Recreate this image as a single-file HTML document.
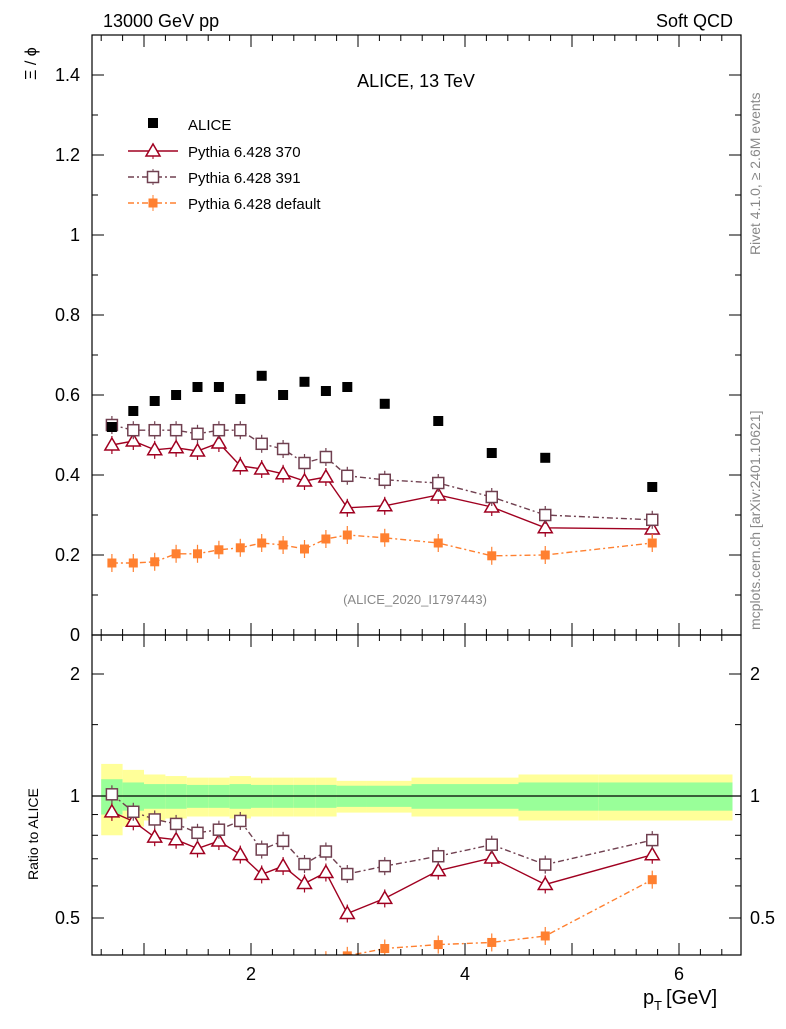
<!DOCTYPE html>
<html><head><meta charset="utf-8"><style>
body{margin:0;background:#fff;}
svg text{font-family:"Liberation Sans",sans-serif;}
</style></head><body>
<svg id="c" width="786" height="1024" xmlns="http://www.w3.org/2000/svg"></svg>
<script>
const pT=[0.7,0.9,1.1,1.3,1.5,1.7,1.9,2.1,2.3,2.5,2.7,2.9,3.25,3.75,4.25,4.75,5.75];
const alice=[0.52,0.56,0.585,0.60,0.62,0.62,0.59,0.648,0.60,0.633,0.61,0.62,0.578,0.535,0.455,0.443,0.37];
const aliceStat=[0.1,0.08,0.07,0.07,0.065,0.065,0.07,0.065,0.065,0.065,0.065,0.06,0.06,0.07,0.07,0.08,0.08];
const aliceTot=[0.2,0.16,0.13,0.12,0.11,0.11,0.12,0.11,0.11,0.11,0.11,0.09,0.09,0.11,0.11,0.13,0.13];
const p370=[0.475,0.485,0.463,0.468,0.46,0.48,0.423,0.415,0.403,0.385,0.395,0.318,0.323,0.35,0.32,0.268,0.265];
const p391=[0.525,0.512,0.512,0.512,0.503,0.512,0.512,0.478,0.465,0.43,0.445,0.398,0.388,0.38,0.345,0.30,0.288];
const pDef=[0.18,0.18,0.183,0.203,0.203,0.213,0.218,0.23,0.225,0.215,0.24,0.25,0.243,0.23,0.198,0.2,0.23];
const yTicksMain=[0,0.2,0.4,0.6,0.8,1,1.2,1.4];
const yTickLabels=["0","0.2","0.4","0.6","0.8","1","1.2","1.4"];
const xTicks=[2,4,6];

const svg=document.getElementById('c');const NS='http://www.w3.org/2000/svg';
function el(t,a,p){const e=document.createElementNS(NS,t);for(const k in a)e.setAttribute(k,a[k]);(p||svg).appendChild(e);return e;}
const L=92,R=741,T1=35,B1=635,T2=635,B2=955;
const X=v=>37+107*v;
const Y=v=>635-400*v;
const YR=v=>796-122*Math.log2(v);
const edges=[0.6];for(let i=0;i<pT.length-1;i++)edges.push((pT[i]+pT[i+1])/2);edges.push(6.5);
// clip paths
const defs=el('defs',{});
const c1=el('clipPath',{id:'cm'},defs);el('rect',{x:L,y:T1,width:R-L,height:B1-T1},c1);
const c2=el('clipPath',{id:'cr'},defs);el('rect',{x:L,y:T2,width:R-L,height:B2-T2},c2);
// ratio bands
const gR=el('g',{'clip-path':'url(#cr)'});

for(let i=0;i<pT.length;i++){
 const x0=X(edges[i]),x1=X(edges[i+1]);
 let r=el('rect',{x:x0,y:YR(1+aliceTot[i]),width:x1-x0,height:YR(1-aliceTot[i])-YR(1+aliceTot[i]),fill:'#ffff99'},gR);
 
 r=el('rect',{x:x0,y:YR(1+aliceStat[i]),width:x1-x0,height:YR(1-aliceStat[i])-YR(1+aliceStat[i]),fill:'#99ff99'},gR);
 
}
el('line',{x1:L,x2:R,y1:YR(1),y2:YR(1),stroke:'#000','stroke-width':1.2},gR);
// series
const series=[
 {d:p370,c:'#a00020',dash:'',m:'tri',n:'pythia-370'},
 {d:p391,c:'#704050',dash:'6,3,2,3',m:'sq',n:'pythia-391'},
 {d:pDef,c:'#ff8030',dash:'6,3,2,3',m:'fsq',n:'pythia-default'}];
function marker(g,m,x,y,c){
 if(m==='tri')el('polygon',{points:`${x},${y-7} ${x-7},${y+5} ${x+7},${y+5}`,fill:'#fff',stroke:c,'stroke-width':1.5},g);
 else if(m==='sq')el('rect',{x:x-5.5,y:y-5.5,width:11,height:11,fill:'#fff',stroke:c,'stroke-width':1.5},g);
 else el('rect',{x:x-4.5,y:y-4.5,width:9,height:9,fill:c},g);
}
function drawSeries(s,yf,vals,clip){
 const g=el('g',{'clip-path':clip});
 
 const pts=vals.map((v,i)=>X(pT[i])+','+yf(v)).join(' ');
 el('polyline',{points:pts,fill:'none',stroke:s.c,'stroke-width':1.4,'stroke-dasharray':s.dash},g);
 vals.forEach((v,i)=>{const x=X(pT[i]),y=yf(v);
  el('line',{x1:x,x2:x,y1:y-9,y2:y+9,stroke:s.c,'stroke-width':1.2},g);
  marker(g,s.m,x,y,s.c);});
}
series.forEach(s=>drawSeries(s,Y,s.d,'url(#cm)'));
series.forEach(s=>drawSeries(s,YR,s.d.map((v,i)=>v/alice[i]),'url(#cr)'));
const ga=el('g',{});
alice.forEach((v,i)=>el('rect',{x:X(pT[i])-5,y:Y(v)-5,width:10,height:10,fill:'#000'},ga));
// frames
el('rect',{x:L,y:T1,width:R-L,height:B1-T1,fill:'none',stroke:'#000','stroke-width':1.2});
el('rect',{x:L,y:T2,width:R-L,height:B2-T2,fill:'none',stroke:'#000','stroke-width':1.2});
function txt(x,y,s,o){const t=el('text',Object.assign({x:x,y:y,'font-size':18},o||{}));t.textContent=s;return t;}
// main y ticks
yTicksMain.forEach((v,i)=>{const y=Y(v);
 el('line',{x1:L,x2:L+12,y1:y,y2:y,stroke:'#000'});el('line',{x1:R,x2:R-12,y1:y,y2:y,stroke:'#000'});
 const t=txt(80,y+6,yTickLabels[i],{'text-anchor':'end'});
 if(v<1.4){const y2=Y(v+0.1);el('line',{x1:L,x2:L+6,y1:y2,y2:y2,stroke:'#000'});el('line',{x1:R,x2:R-6,y1:y2,y2:y2,stroke:'#000'});}});
// x ticks
for(let v=0.6;v<6.6;v+=0.2){const x=X(v);const major=Math.abs(v-Math.round(v))<0.01;const h=major?12:6;
 [B1,B2].forEach(b=>el('line',{x1:x,x2:x,y1:b,y2:b-h,stroke:'#000'}));
 [T1,T2].forEach(t=>el('line',{x1:x,x2:x,y1:t,y2:t+h,stroke:'#000'}));}
xTicks.forEach(v=>txt(X(v),980,String(v),{'text-anchor':'middle'}));
// ratio ticks
[0.5,1,2].forEach(v=>{const y=YR(v);el('line',{x1:L,x2:L+12,y1:y,y2:y,stroke:'#000'});el('line',{x1:R,x2:R-12,y1:y,y2:y,stroke:'#000'});
 txt(80,y+6,String(v),{'text-anchor':'end'});txt(750,y+6,String(v));});
[0.6,0.7,0.8,0.9,1.5,2.5].forEach(v=>{const y=YR(v);if(y>T2&&y<B2){el('line',{x1:L,x2:L+6,y1:y,y2:y,stroke:'#000'});el('line',{x1:R,x2:R-6,y1:y,y2:y,stroke:'#000'});}});
// labels
txt(103,27,'13000 GeV pp');txt(733,27,'Soft QCD',{'text-anchor':'end'});
txt(416,87,'ALICE, 13 TeV',{'text-anchor':'middle'});
txt(415,604,'(ALICE_2020_I1797443)',{'text-anchor':'middle','font-size':13,fill:'#888'});
txt(643,1004,'p',{'font-size':20});txt(654,1010,'T',{'font-size':13});txt(666,1004,'[GeV]',{'font-size':20});
txt(0,0,'Ξ / ϕ',{transform:'translate(36,80) rotate(-90)','font-size':16});
txt(0,0,'Ratio to ALICE',{transform:'translate(38,880) rotate(-90)','font-size':14});
txt(0,0,'Rivet 4.1.0, ≥ 2.6M events',{transform:'translate(760,255) rotate(-90)','font-size':14,fill:'#888'});
txt(0,0,'mcplots.cern.ch [arXiv:2401.10621]',{transform:'translate(760,630) rotate(-90)','font-size':14,fill:'#888'});
// legend
const lg=el('g',{});
el('rect',{x:148,y:118,width:10,height:10,fill:'#000'},lg);txt(188,130,'ALICE',{'font-size':15},lg);
series.forEach((s,i)=>{const y=151+i*26;
 el('line',{x1:128,x2:178,y1:y,y2:y,stroke:s.c,'stroke-width':1.4,'stroke-dasharray':s.dash},lg);
 el('line',{x1:153,x2:153,y1:y-8,y2:y+8,stroke:s.c},lg);marker(lg,s.m,153,y,s.c);
 txt(188,y+6,['Pythia 6.428 370','Pythia 6.428 391','Pythia 6.428 default'][i],{'font-size':15},lg);});
</script>
</body></html>
